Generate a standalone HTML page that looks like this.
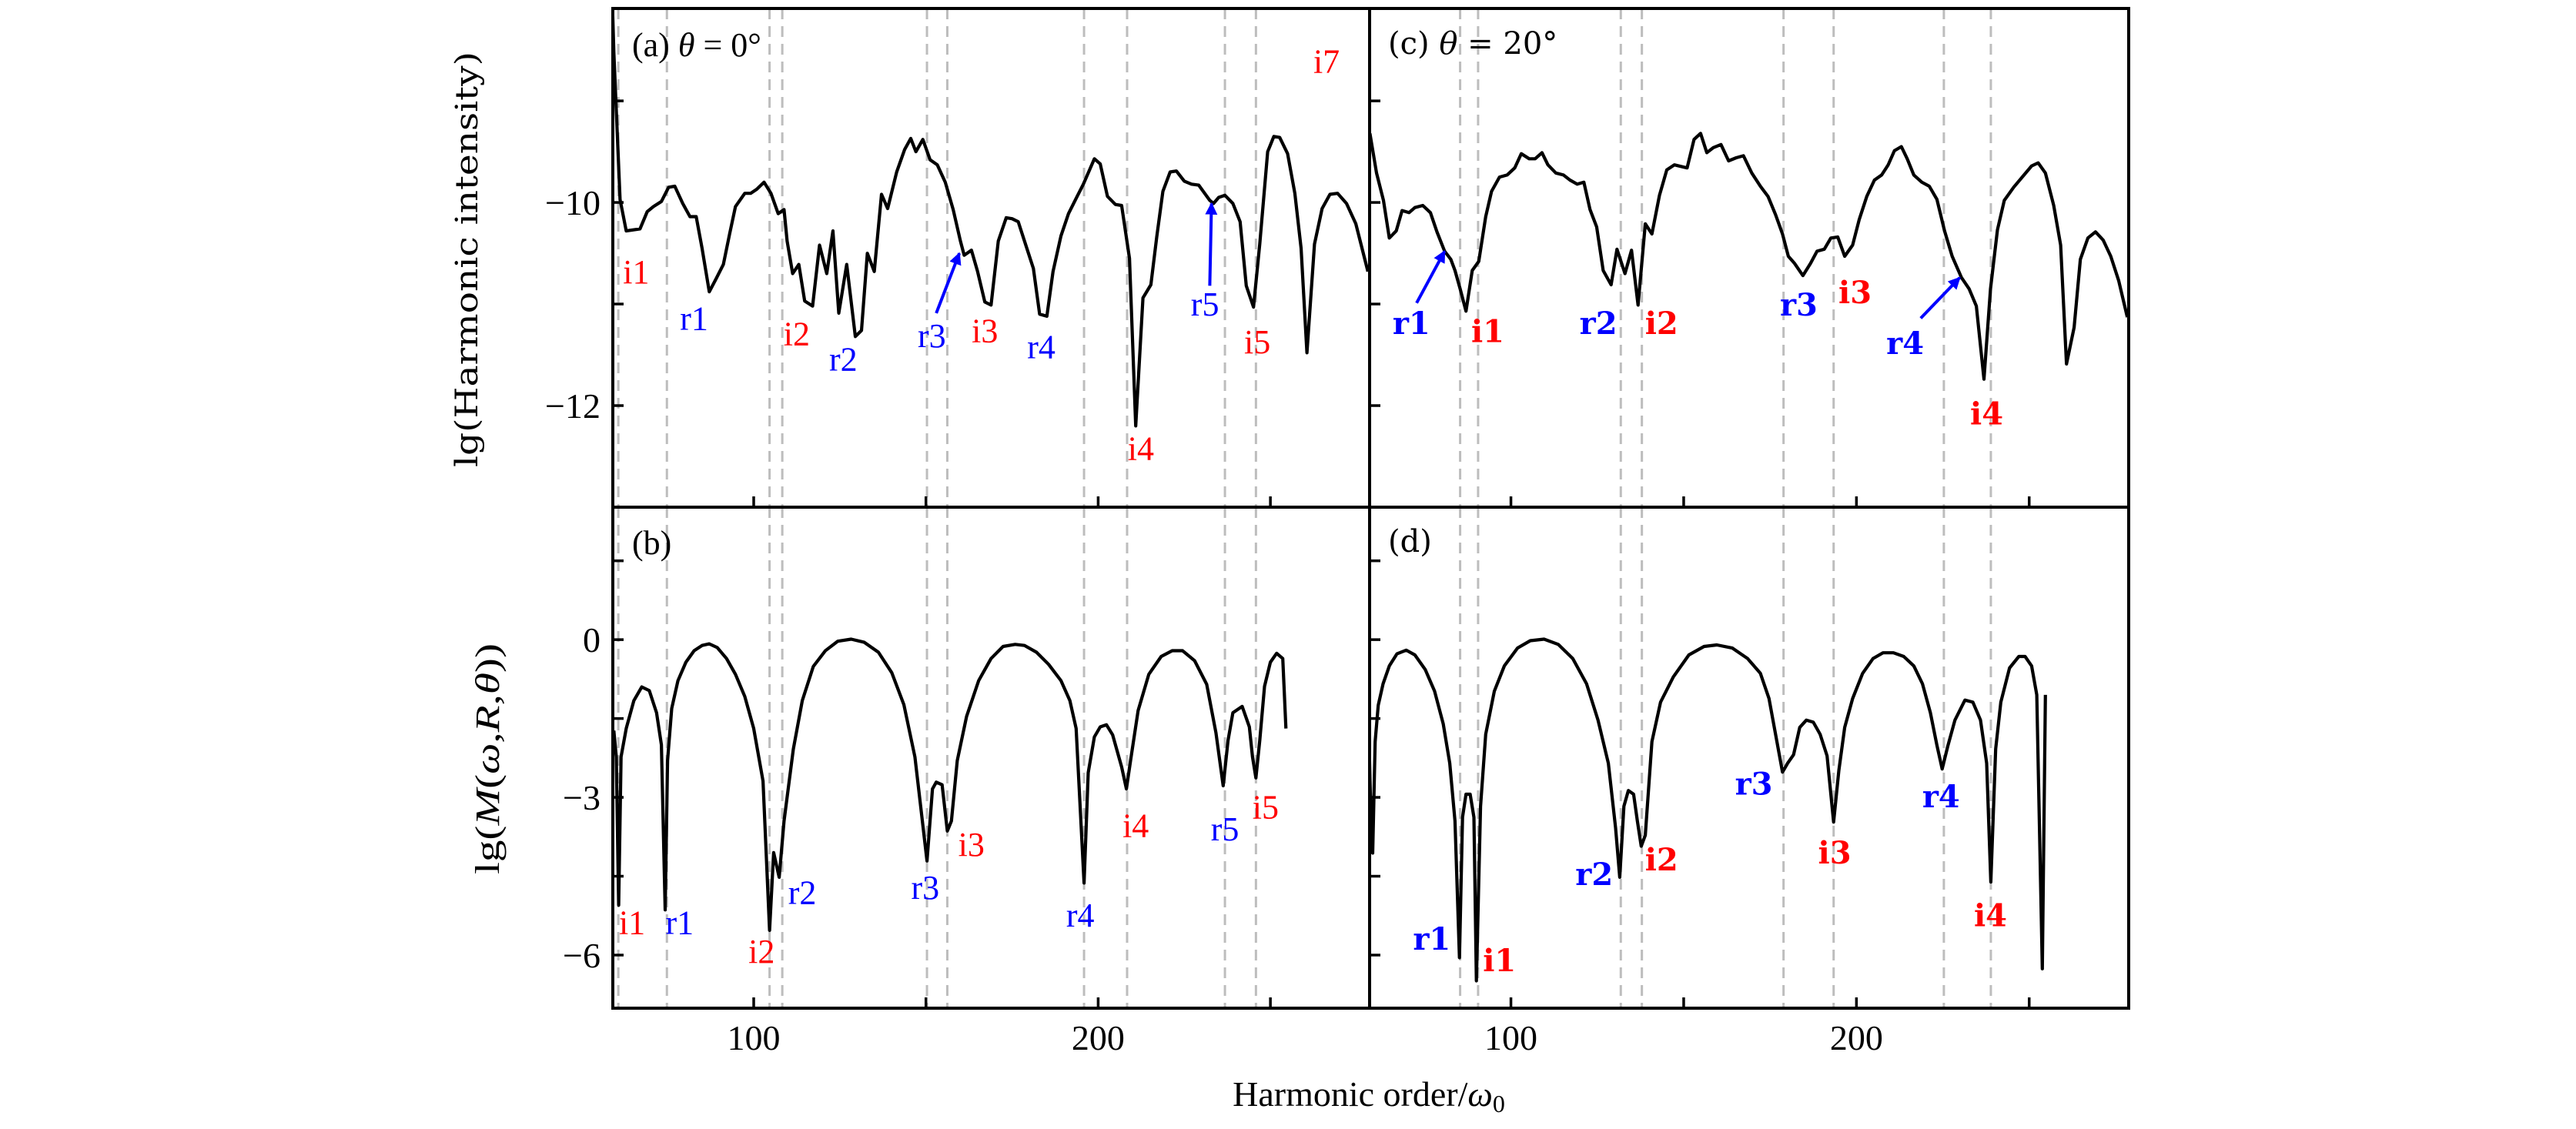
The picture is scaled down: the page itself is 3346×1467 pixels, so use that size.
<!DOCTYPE html>
<html><head><meta charset="utf-8"><style>
html,body{margin:0;padding:0;background:#fff}
svg{display:block}
text{font-family:"Liberation Serif","DejaVu Serif",serif}
</style></head><body>
<svg id="fig" width="3346" height="1467" viewBox="0 0 3346 1467" xmlns="http://www.w3.org/2000/svg">
<g id="root"></g>
</svg>
<script>
// ---------- data ----------
const xTicksMajor = [100, 200];
const xTicksMinor = [150, 250];
const yTicksTop = [-9, -10, -11, -12];
const yTickLabelsTop = [-10, -12];
const yTicksBot = [1.5, 0, -1.5, -3, -4.5, -6];
const yTickLabelsBot = [0, -3, -6];

const aH = [59,59.4,61.2,63,67,69.1,70.9,73.2,75.3,77.1,79.4,81.5,83.3,85,87.1,89.1,91.2,93,94.7,97.4,99.1,100.9,103,105,107.1,108.8,109.7,111.3,113.1,114.8,117.1,119.1,121.2,123,124.7,127,129.5,131.3,133,135,137.1,138.9,141.5,143.8,145.6,147.1,149.1,151.2,153.3,155.6,157.9,160,161.1,163.2,165,167.1,168.9,171,173.3,175,176.8,178.9,181.2,183,185.1,186.9,189.2,191.4,193.6,195.7,198.9,200.6,202.7,205,206.8,209.1,210.9,213,215.3,217,218.8,220.9,222.7,225,227.1,229.2,232.4,233.5,235,236.8,239.1,241.2,243,245.1,246.9,249.2,251,252.7,255,257.1,258.9,260.6,262.8,265,267.3,269.5,272.1,274.8,278.3];
const aV = [-8.08,-8.52,-9.97,-10.28,-10.26,-10.09,-10.04,-9.99,-9.85,-9.84,-10.01,-10.14,-10.14,-10.45,-10.88,-10.75,-10.61,-10.31,-10.04,-9.91,-9.91,-9.87,-9.8,-9.91,-10.11,-10.07,-10.38,-10.7,-10.61,-10.97,-11.02,-10.42,-10.7,-10.28,-11.09,-10.61,-11.32,-11.26,-10.5,-10.68,-9.92,-10.06,-9.7,-9.48,-9.37,-9.5,-9.38,-9.58,-9.63,-9.8,-10.07,-10.38,-10.52,-10.47,-10.68,-10.98,-11.01,-10.38,-10.15,-10.16,-10.19,-10.41,-10.65,-11.1,-11.12,-10.68,-10.33,-10.11,-9.96,-9.82,-9.57,-9.62,-9.94,-10.02,-10.03,-10.55,-12.2,-10.94,-10.81,-10.34,-9.89,-9.7,-9.69,-9.79,-9.82,-9.83,-9.98,-10.01,-9.95,-9.93,-10.01,-10.19,-10.82,-11.03,-10.41,-9.5,-9.35,-9.36,-9.52,-9.91,-10.45,-11.48,-10.41,-10.06,-9.92,-9.91,-10.01,-10.21,-10.68];

const bH = [59.4,60.1,60.8,61.5,63,65.2,67.5,69.7,71.8,73.2,74.3,75,76.2,78,80.3,82.7,85,87.1,89.4,92.1,94.7,97.4,100,102.7,104.6,105.8,107.4,108.8,111.5,114.1,117.3,120.8,124.4,128.3,132.1,136.2,140.1,143.6,146.8,150.3,151.9,153,154.7,156.2,157.4,159.1,161.8,165.3,168.9,172.4,175.9,178.6,182.1,185.6,189.2,191.8,193.6,195.9,197.1,198.9,200.6,202.4,204.2,206.8,208.2,209.4,211.6,214.7,218.3,221.5,224.5,228,231.5,234.2,236.3,237.7,239.1,241.8,243.9,244.8,245.8,246.9,248.3,250,251.8,253.6,254.5];
const bV = [-1.73,-2.23,-5.05,-2.23,-1.69,-1.16,-0.9,-0.97,-1.39,-2,-5.14,-2.3,-1.31,-0.78,-0.43,-0.21,-0.11,-0.08,-0.15,-0.36,-0.66,-1.08,-1.69,-2.69,-5.53,-4.05,-4.52,-3.45,-2.08,-1.16,-0.51,-0.21,-0.03,0.01,-0.05,-0.24,-0.63,-1.24,-2.23,-4.21,-2.84,-2.71,-2.76,-3.64,-3.45,-2.3,-1.46,-0.78,-0.36,-0.13,-0.09,-0.11,-0.24,-0.47,-0.78,-1.16,-1.69,-4.63,-2.53,-1.85,-1.66,-1.62,-1.81,-2.42,-2.84,-2.3,-1.35,-0.66,-0.32,-0.21,-0.21,-0.4,-0.85,-1.77,-2.78,-1.92,-1.39,-1.27,-1.66,-2.23,-2.63,-1.92,-0.89,-0.43,-0.26,-0.36,-1.69];

const cH = [59.2,61.1,63.1,64.8,66.8,68.5,70.5,72.2,74.5,76.7,78.6,80.8,82.6,83.8,85.3,87,88.8,90.7,92.7,94.4,96.7,98.9,101.1,103,105.3,107,109,110.7,113,115.2,117.1,119.2,121.1,122.9,124.8,126.7,129,130.7,133,134.9,136.8,138.9,140.8,143,145.1,147.3,151,153,154.9,156.7,158.6,160.8,163,165.2,167.3,169.7,172.2,174.4,176.6,178.6,180.3,182.1,184.5,186.7,188.6,190.7,192.6,194.6,196.6,198.9,200.8,203,205.2,207.3,209.2,211,213,214.7,216.6,218.9,221.1,223.3,225.5,227.7,230.4,232.6,234.7,236.9,238.8,240.8,242.8,245.5,248.5,250.7,252.6,254.7,257.1,259.1,260.8,263,264.8,267,269.2,271.4,273.6,275.9,278.4];
const cV = [-9.32,-9.71,-9.98,-10.35,-10.28,-10.08,-10.1,-10.05,-10.03,-10.1,-10.29,-10.48,-10.56,-10.67,-10.85,-11.07,-10.67,-10.58,-10.14,-9.89,-9.75,-9.73,-9.66,-9.52,-9.57,-9.57,-9.51,-9.63,-9.71,-9.73,-9.78,-9.82,-9.8,-10.07,-10.24,-10.67,-10.81,-10.46,-10.7,-10.47,-11.01,-10.21,-10.31,-9.93,-9.68,-9.63,-9.66,-9.38,-9.32,-9.51,-9.46,-9.43,-9.59,-9.56,-9.54,-9.71,-9.84,-9.94,-10.12,-10.31,-10.53,-10.6,-10.72,-10.6,-10.48,-10.46,-10.35,-10.34,-10.53,-10.42,-10.17,-9.94,-9.78,-9.73,-9.63,-9.49,-9.45,-9.57,-9.73,-9.8,-9.84,-9.97,-10.28,-10.53,-10.74,-10.85,-11.02,-11.74,-10.85,-10.27,-9.98,-9.85,-9.73,-9.64,-9.61,-9.71,-10.03,-10.42,-11.59,-11.23,-10.56,-10.35,-10.29,-10.37,-10.53,-10.77,-11.13];

const dH = [58.9,59.3,60,60.7,61.6,63,64.8,67,69.7,72.2,75.2,77.9,80.4,82.3,83.8,85.1,86,87,88.2,89.3,90,91.2,92.7,95.2,98.1,101.9,105.6,109.6,113.7,117.9,121.9,125.2,128.2,130.3,131.5,132.7,134,135.5,136.6,137.7,138.9,140.8,143.3,147,151.5,155.9,159.6,164.1,168.5,172.2,174.7,176.6,178.6,180.1,181.8,183.6,185.5,187.5,189.5,191.5,193.4,194.9,196.6,198.9,201.8,204.8,207.7,210.7,213.7,216.6,219.1,221.4,223.3,224.8,226.5,228.5,231.4,233.7,235.9,237.7,238.9,240.3,241.8,244.3,247,248.8,250.7,252.2,253.8,254.7];
const dV = [-1.8,-2.9,-4.06,-1.94,-1.25,-0.84,-0.5,-0.27,-0.2,-0.29,-0.57,-0.98,-1.6,-2.35,-3.45,-6.05,-3.38,-2.94,-2.94,-3.38,-6.49,-3.17,-1.8,-0.98,-0.5,-0.16,-0.02,0.01,-0.09,-0.36,-0.84,-1.53,-2.35,-3.58,-4.52,-3.17,-2.87,-2.94,-3.45,-3.93,-3.72,-1.94,-1.19,-0.71,-0.29,-0.13,-0.1,-0.16,-0.36,-0.64,-1.12,-1.8,-2.52,-2.35,-2.19,-1.67,-1.53,-1.57,-1.8,-2.21,-3.47,-2.49,-1.67,-1.12,-0.64,-0.36,-0.25,-0.25,-0.32,-0.5,-0.84,-1.39,-2.01,-2.46,-2.01,-1.53,-1.15,-1.19,-1.53,-2.35,-4.61,-2.08,-1.19,-0.54,-0.32,-0.32,-0.5,-1.05,-6.26,-1.05];

const dashLeft = [60.7,74.8,104.6,108.3,150.3,156.2,195.9,208.4,236.8,245.8];
const dashRight = [85.3,90.5,131.8,137.9,178.9,193.4,225.3,238.9];

const aLabText = ["i1","r1","i2","r2","r3","i3","r4","i4","r5","i5","i7"];
const aLabH = [65.9,82.7,112.5,126.0,151.7,167.1,183.5,212.4,231.0,246.2,266.3];
const aLabV = [-10.68,-11.14,-11.29,-11.54,-11.31,-11.26,-11.42,-12.42,-11.0,-11.37,-8.61];
const bLabText = ["i1","r1","i2","r2","r3","i3","r4","i4","r5","i5"];
const bLabH = [64.7,78.5,102.3,114.1,149.8,163.2,194.8,210.9,236.8,248.6];
const bLabV = [-5.38,-5.38,-5.93,-4.81,-4.71,-3.89,-5.24,-3.53,-3.6,-3.18];
const cLabText = ["r1","i1","r2","i2","r3","i3","r4","i4"];
const cLabH = [71.2,93.3,125.3,143.6,183.3,199.6,214.1,237.7];
const cLabV = [-11.18,-11.26,-11.18,-11.18,-11.0,-10.88,-11.38,-12.07];
const dLabText = ["r1","i1","r2","i2","r3","i3","r4","i4"];
const dLabH = [77.1,96.7,124.1,143.6,170.3,193.7,224.5,238.8];
const dLabV = [-5.68,-6.09,-4.45,-4.17,-2.73,-4.04,-2.97,-5.23];

const aArrows = [[153.0,-11.09,159.7,-10.5],[232.4,-10.82,232.9,-10.01]];
const cArrows = [[72.7,-10.99,80.8,-10.48],[218.6,-11.14,229.9,-10.74]];

// ---------- layout ----------
const NS = "http://www.w3.org/2000/svg";
const root = document.getElementById('root');
const XMIN = 59.1, XMAX = 278.8;
const topY0 = 11, topY1 = 659, botY0 = 659, botY1 = 1310;
const TMIN = -13.0, TMAX = -8.09, BMIN = -7.01, BMAX = 2.52;
const panels = {
  a: {x0: 796, x1: 1779, y0: topY0, y1: topY1, vmin: TMIN, vmax: TMAX},
  b: {x0: 796, x1: 1779, y0: botY0, y1: botY1, vmin: BMIN, vmax: BMAX},
  c: {x0: 1779, x1: 2765, y0: topY0, y1: topY1, vmin: TMIN, vmax: TMAX},
  d: {x0: 1779, x1: 2765, y0: botY0, y1: botY1, vmin: BMIN, vmax: BMAX}
};
function sx(p, h) { return p.x0 + (h - XMIN) / (XMAX - XMIN) * (p.x1 - p.x0); }
function sy(p, v) { return p.y1 - (v - p.vmin) / (p.vmax - p.vmin) * (p.y1 - p.y0); }
function el(tag, attrs, parent) {
  const e = document.createElementNS(NS, tag);
  for (const k in attrs) e.setAttribute(k, attrs[k]);
  (parent || root).appendChild(e);
  return e;
}
const defs = el('defs', {});
const mk = el('marker', {id: 'arrowhead', viewBox: '0 0 10 10', refX: '9', refY: '5', markerWidth: '4', markerHeight: '5', orient: 'auto', markerUnits: 'strokeWidth'}, defs);
el('path', {d: 'M0,0 L10,5 L0,10 z', fill: '#0000ff'}, mk);

function clip(id, p) {
  const c = el('clipPath', {id: id}, defs);
  el('rect', {x: p.x0, y: p.y0, width: p.x1 - p.x0, height: p.y1 - p.y0}, c);
}
['a','b','c','d'].forEach(k => clip('clip-' + k, panels[k]));

function drawDashes(key, arr) {
  const p = panels[key];
  const g = el('g', {});
  
  
  arr.forEach(h => {
    const l = el('line', {x1: sx(p, h), x2: sx(p, h), y1: p.y0, y2: p.y1, stroke: '#bdbdbd', 'stroke-width': 3, 'stroke-dasharray': '14 9'}, g);
    
    
  });
}
drawDashes('a', dashLeft); drawDashes('b', dashLeft);
drawDashes('c', dashRight); drawDashes('d', dashRight);

function drawCurve(key, H, V) {
  const p = panels[key];
  let d = '';
  H.forEach((h, i) => { d += (i ? 'L' : 'M') + sx(p, h).toFixed(1) + ',' + sy(p, V[i]).toFixed(1); });
  const path = el('path', {d: d, fill: 'none', stroke: '#000', 'stroke-width': 4.2, 'stroke-linejoin': 'round', 'clip-path': 'url(#clip-' + key + ')'});
  
  
}
drawCurve('a', aH, aV); drawCurve('b', bH, bV);
drawCurve('c', cH, cV); drawCurve('d', dH, dV);

function drawLabels(key, T, H, V, wide) {
  const p = panels[key];
  T.forEach((t, i) => {
    const tx = el('text', {x: sx(p, H[i]), y: sy(p, V[i]) + 15, 'text-anchor': 'middle', 'font-size': wide ? 40 : 44, fill: t[0] === 'r' ? '#0000ff' : '#ff0000'});
    if (wide) { tx.setAttribute('style', 'font-family:"DejaVu Serif",serif;font-weight:600'); }
    tx.textContent = t;
    
    
  });
}
drawLabels('a', aLabText, aLabH, aLabV, false);
drawLabels('b', bLabText, bLabH, bLabV, false);
drawLabels('c', cLabText, cLabH, cLabV, true);
drawLabels('d', dLabText, dLabH, dLabV, true);

function drawArrows(key, arr) {
  const p = panels[key];
  arr.forEach(a => {
    const l = el('line', {x1: sx(p, a[0]), y1: sy(p, a[1]), x2: sx(p, a[2]), y2: sy(p, a[3]), stroke: '#0000ff', 'stroke-width': 4, 'marker-end': 'url(#arrowhead)'});
    
    
  });
}
drawArrows('a', aArrows); drawArrows('c', cArrows);

function drawAxes(key, yt, isBottom) {
  const p = panels[key];
  const g = el('g', {});
  
  
  xTicksMajor.concat(xTicksMinor).forEach(h => {
    el('line', {x1: sx(p, h), x2: sx(p, h), y1: p.y1, y2: p.y1 - 14, stroke: '#000', 'stroke-width': 3.5}, g);
  });
  yt.forEach(v => {
    el('line', {x1: p.x0, x2: p.x0 + 14, y1: sy(p, v), y2: sy(p, v), stroke: '#000', 'stroke-width': 3.5}, g);
  });
  const r = el('rect', {x: p.x0, y: p.y0, width: p.x1 - p.x0, height: p.y1 - p.y0, fill: 'none', stroke: '#000', 'stroke-width': 4}, g);
  
  
  if (isBottom) {
    xTicksMajor.forEach(h => {
      const t = el('text', {x: sx(p, h), y: 1364, 'text-anchor': 'middle', 'font-size': 46, fill: '#000'});
      t.textContent = String(h);
      
      
    });
  }
}
drawAxes('a', yTicksTop, false); drawAxes('b', yTicksBot, true);
drawAxes('c', yTicksTop, false); drawAxes('d', yTicksBot, true);

function yLabels(key, arr) {
  const p = panels[key];
  arr.forEach(v => {
    const t = el('text', {x: p.x0 - 16, y: sy(p, v) + 16, 'text-anchor': 'end', 'font-size': 46, fill: '#000'});
    t.textContent = (v < 0 ? '\u2212' + Math.abs(v) : String(v));
    
    
  });
}
yLabels('a', yTickLabelsTop); yLabels('b', yTickLabelsBot);
</script>
<script>
(function(){
const NS = "http://www.w3.org/2000/svg";
const root = document.getElementById('root');
function txt(attrs, html, name) {
  const t = document.createElementNS(NS, 'text');
  for (const k in attrs) t.setAttribute(k, attrs[k]);
  t.innerHTML = html;
  
  
  root.appendChild(t);
}
txt({x: 821, y: 73, 'font-size': 44}, '(a) <tspan font-style="italic">θ</tspan> = 0°', 'panel-a-title');
txt({x: 821, y: 720, 'font-size': 44}, '(b)', 'panel-b-title');
txt({x: 1803, y: 70, 'font-size': 40, style: 'font-family:"DejaVu Serif",serif'}, '(c) <tspan font-style="italic">θ</tspan> = 20°', 'panel-c-title');
txt({x: 1803, y: 717, 'font-size': 40, style: 'font-family:"DejaVu Serif",serif'}, '(d)', 'panel-d-title');
txt({x: 1778, y: 1437, 'font-size': 46, 'text-anchor': 'middle'}, 'Harmonic order/<tspan font-style="italic">ω</tspan><tspan font-size="32" dy="8">0</tspan>', 'x-axis-title');
txt({x: 0, y: 0, 'font-size': 40, 'text-anchor': 'middle', style: 'font-family:"DejaVu Serif",serif', textLength: 540, lengthAdjust: 'spacingAndGlyphs', transform: 'translate(620,337) rotate(-90)'}, 'lg(Harmonic intensity)', 'y-axis-title-top');
txt({x: 0, y: 0, 'font-size': 44, 'text-anchor': 'middle', textLength: 300, lengthAdjust: 'spacingAndGlyphs', transform: 'translate(648,986) rotate(-90)'}, 'lg(<tspan font-style="italic">M</tspan>(<tspan font-style="italic">ω</tspan>,<tspan font-style="italic">R</tspan>,<tspan font-style="italic">θ</tspan>))', 'y-axis-title-bottom');
})();
</script>
</body></html>
